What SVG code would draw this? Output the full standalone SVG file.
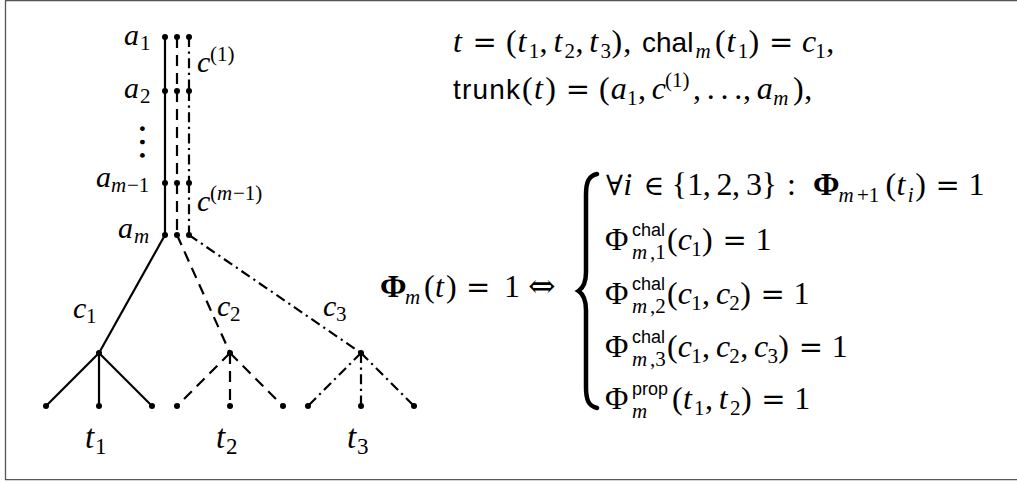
<svg xmlns="http://www.w3.org/2000/svg" width="1017" height="481" viewBox="0 0 1017 481">
<style>
.frame{fill:none;stroke:#555;stroke-width:1.3}
.e{fill:none;stroke:#000;stroke-width:2.2}
.dash{stroke-dasharray:11 7}
.dd{stroke-dasharray:10 4.5 2.2 4.5}
.dot{fill:#000}
text{fill:#000}
.m{font-family:"Liberation Serif","DejaVu Serif",serif;font-size:32px}
.l{font-family:"Liberation Serif","DejaVu Serif",serif;font-size:30px}
.big{font-family:"Liberation Serif","DejaVu Serif",serif;font-size:33px}
.i{font-style:italic}
.sc{font-size:21px}
.sb{font-size:23px}
.ss{font-family:"Liberation Sans",sans-serif;font-size:18px}
.sf{font-family:"Liberation Sans",sans-serif;font-size:28px}
.b{font-weight:bold}
.eq{font-family:"DejaVu Serif",serif;font-size:29px;font-style:normal}
.sym{font-family:"DejaVu Serif",serif;font-size:28px}
.brace{fill:none;stroke:#000;stroke-width:4.5;stroke-linecap:round}
</style>
<path class="frame" d="M1018 0.7 H5.5 V479.6 H1018"/>

<g id="connectors">
  <line class="e" x1="165" y1="37" x2="165" y2="91"/>
  <line class="e" x1="165" y1="91" x2="165" y2="183"/>
  <line class="e" x1="165" y1="183" x2="165" y2="235"/>
  <line class="e dash" x1="177" y1="37" x2="177" y2="91"/>
  <line class="e dash" x1="177" y1="91" x2="177" y2="183"/>
  <line class="e dash" x1="177" y1="183" x2="177" y2="235"/>
  <line class="e dd" x1="189" y1="37" x2="189" y2="91"/>
  <line class="e dd" x1="189" y1="91" x2="189" y2="183"/>
  <line class="e dd" x1="189" y1="183" x2="189" y2="235"/>
  <line class="e" x1="165" y1="235" x2="99" y2="353"/>
  <line class="e dash" x1="177" y1="235" x2="230" y2="353"/>
  <line class="e dd" x1="189" y1="235" x2="361" y2="353"/>
  <line class="e" x1="99" y1="353" x2="46" y2="406"/>
  <line class="e" x1="99" y1="353" x2="99" y2="406"/>
  <line class="e" x1="99" y1="353" x2="152" y2="406"/>
  <line class="e dash" x1="230" y1="353" x2="177" y2="406"/>
  <line class="e dash" x1="230" y1="353" x2="230" y2="406"/>
  <line class="e dash" x1="230" y1="353" x2="283" y2="406"/>
  <line class="e dd" x1="361" y1="353" x2="308" y2="406"/>
  <line class="e dd" x1="361" y1="353" x2="361" y2="406"/>
  <line class="e dd" x1="361" y1="353" x2="414" y2="406"/>
</g>

<g id="node-a1">
  <circle class="dot" cx="165" cy="37" r="3"/><circle class="dot" cx="177" cy="37" r="3"/><circle class="dot" cx="189" cy="37" r="3"/>
  <text class="l" y="45"><tspan class="i" x="124">a</tspan><tspan class="sc" x="140" y="50">1</tspan></text>
</g>
<g id="label-c1">
  <text class="l" y="72"><tspan class="i" x="197">c</tspan><tspan class="sc" x="210" y="61">(1)</tspan></text>
</g>
<g id="node-a2">
  <circle class="dot" cx="165" cy="91" r="3"/><circle class="dot" cx="177" cy="91" r="3"/><circle class="dot" cx="189" cy="91" r="3"/>
  <text class="l" y="98"><tspan class="i" x="124">a</tspan><tspan class="sc" x="140" y="103">2</tspan></text>
</g>
<g id="vdots">
  <text x="122" y="144" transform="rotate(90 142 142)" style="font-family:'Liberation Serif',serif;font-size:40px">…</text>
</g>
<g id="node-am1">
  <circle class="dot" cx="165" cy="183" r="3"/><circle class="dot" cx="177" cy="183" r="3"/><circle class="dot" cx="189" cy="183" r="3"/>
  <text class="l" y="187"><tspan class="i" x="96">a</tspan><tspan class="sc i" x="111" y="192">m</tspan><tspan class="sc" x="127" y="192">−1</tspan></text>
</g>
<g id="label-cm1">
  <text class="l" y="211"><tspan class="i" x="197">c</tspan><tspan class="sc" x="210" y="200">(</tspan><tspan class="sc i" x="217" y="200">m</tspan><tspan class="sc" x="233" y="200">−1)</tspan></text>
</g>
<g id="node-am">
  <circle class="dot" cx="165" cy="235" r="3"/><circle class="dot" cx="177" cy="235" r="3"/><circle class="dot" cx="189" cy="235" r="3"/>
  <text class="l" y="238"><tspan class="i" x="118">a</tspan><tspan class="sc i" x="134" y="243">m</tspan></text>
</g>

<g id="node-t1">
  <circle class="dot" cx="99" cy="353" r="3"/>
  <circle class="dot" cx="46" cy="406" r="3"/><circle class="dot" cx="99" cy="406" r="3"/><circle class="dot" cx="152" cy="406" r="3"/>
  <text class="big" y="448"><tspan class="i" x="85">t</tspan><tspan class="sb" x="95" y="454">1</tspan></text>
</g>
<g id="node-t2">
  <circle class="dot" cx="230" cy="353" r="3"/>
  <circle class="dot" cx="177" cy="406" r="3"/><circle class="dot" cx="230" cy="406" r="3"/><circle class="dot" cx="283" cy="406" r="3"/>
  <text class="big" y="448"><tspan class="i" x="216">t</tspan><tspan class="sb" x="226" y="454">2</tspan></text>
</g>
<g id="node-t3">
  <circle class="dot" cx="361" cy="353" r="3"/>
  <circle class="dot" cx="308" cy="406" r="3"/><circle class="dot" cx="361" cy="406" r="3"/><circle class="dot" cx="414" cy="406" r="3"/>
  <text class="big" y="448"><tspan class="i" x="347">t</tspan><tspan class="sb" x="357" y="454">3</tspan></text>
</g>

<g id="edge-labels">
  <text class="l" y="318"><tspan class="i" x="73">c</tspan><tspan class="sc" x="86" y="323">1</tspan></text>
  <text class="l" y="316"><tspan class="i" x="217">c</tspan><tspan class="sc" x="230" y="321">2</tspan></text>
  <text class="l" y="316"><tspan class="i" x="323">c</tspan><tspan class="sc" x="336" y="321">3</tspan></text>
</g>

<g id="formula-top">
  <text class="m" y="52"><tspan class="i" x="453">t</tspan><tspan class="eq" x="472.5">=</tspan><tspan x="506">(</tspan><tspan class="i" x="517.5">t</tspan><tspan class="sc" x="528.7" y="58">1</tspan><tspan x="539.6" y="52">,</tspan><tspan class="i" x="553.4">t</tspan><tspan class="sc" x="564.6" y="58">2</tspan><tspan x="575.4" y="52">,</tspan><tspan class="i" x="589.2">t</tspan><tspan class="sc" x="600.4" y="58">3</tspan><tspan x="611.5" y="52">)</tspan><tspan x="623.3">,</tspan></text>
  <text class="sf" x="642" y="52">chal</text>
  <text class="m" y="52"><tspan class="sc i" x="695.4" y="58">m</tspan><tspan x="715" y="52">(</tspan><tspan class="i" x="726.5">t</tspan><tspan class="sc" x="737.7" y="58">1</tspan><tspan x="748.6" y="52">)</tspan><tspan class="eq" x="769">=</tspan><tspan class="i" x="801.9">c</tspan><tspan class="sc" x="815.3" y="58">1</tspan><tspan x="826.2" y="52">,</tspan></text>
  <text class="sf" x="453" y="99" style="letter-spacing:1.2px">trunk</text>
  <text class="m" y="99"><tspan x="522">(</tspan><tspan class="i" x="534.1">t</tspan><tspan x="545.3">)</tspan><tspan class="eq" x="565.7">=</tspan><tspan x="599">(</tspan><tspan class="i" x="610.7">a</tspan><tspan class="sc" x="627.1" y="105">1</tspan><tspan x="637.9" y="99">,</tspan><tspan class="i" x="651.7">c</tspan><tspan class="sc" x="665.1" y="87">(1)</tspan><tspan x="692.9" y="99">,</tspan><tspan x="706.7">.</tspan><tspan x="720.5">.</tspan><tspan x="734.3">.</tspan><tspan x="743">,</tspan><tspan class="i" x="756.8">a</tspan><tspan class="sc i" x="773.2" y="105">m</tspan><tspan x="793" y="99">)</tspan><tspan x="804.3">,</tspan></text>
</g>

<g id="formula-main">
  <text class="m" y="297"><tspan class="b" x="380">Φ</tspan><tspan class="sc i" x="405" y="304">m</tspan><tspan x="424" y="297">(</tspan><tspan class="i" x="435">t</tspan><tspan x="446">)</tspan><tspan class="eq" x="466">=</tspan><tspan x="504">1</tspan></text>
  <text class="sym" x="528" y="297" style="font-size:33px">⇔</text>
  <path class="brace" d="M597 174 C589 176 586 181 586 195 L586 272 C586 283 583 288 578.5 291 C583 294 586 299 586 310 L586 387 C586 401 589 406 597 408"/>
</g>

<g id="cases">
  <text class="sym" x="606" y="195">∀</text>
  <text class="m" y="195"><tspan class="i" x="623.2">i</tspan></text>
  <text class="sym" x="643.5" y="195">∈</text>
  <text class="m" y="195"><tspan x="671.8">{</tspan><tspan x="687.3">1</tspan><tspan x="702.8">,</tspan><tspan x="716.6">2</tspan><tspan x="732.1">,</tspan><tspan x="745.9">3</tspan><tspan x="761.4">}</tspan><tspan x="787">:</tspan><tspan class="b" x="813">Φ</tspan><tspan class="sc i" x="838.5" y="202">m</tspan><tspan class="sc" x="857" y="202">+1</tspan><tspan x="885.6" y="195">(</tspan><tspan class="i" x="896.6">t</tspan><tspan class="sc i" x="907.8" y="202">i</tspan><tspan x="915.3" y="195">)</tspan><tspan class="eq" x="935.5">=</tspan><tspan x="968.6">1</tspan></text>

  <text class="m" y="250"><tspan x="605">Φ</tspan><tspan class="sc i" x="632" y="259">m</tspan><tspan class="sc" x="650" y="259">,1</tspan><tspan x="667" y="250">(</tspan><tspan class="i" x="677.8">c</tspan><tspan class="sc" x="691.2" y="256">1</tspan><tspan x="702.1" y="250">)</tspan><tspan class="eq" x="722.5">=</tspan><tspan x="755.5">1</tspan></text>
  <text class="ss" x="632" y="236">chal</text>

  <text class="m" y="304"><tspan x="605">Φ</tspan><tspan class="sc i" x="632" y="313">m</tspan><tspan class="sc" x="650" y="313">,2</tspan><tspan x="667" y="304">(</tspan><tspan class="i" x="677.8">c</tspan><tspan class="sc" x="691.2" y="310">1</tspan><tspan x="702.1" y="304">,</tspan><tspan class="i" x="715.9">c</tspan><tspan class="sc" x="729.3" y="310">2</tspan><tspan x="740.2" y="304">)</tspan><tspan class="eq" x="760.6">=</tspan><tspan x="793.6">1</tspan></text>
  <text class="ss" x="632" y="290">chal</text>

  <text class="m" y="357"><tspan x="605">Φ</tspan><tspan class="sc i" x="632" y="366">m</tspan><tspan class="sc" x="650" y="366">,3</tspan><tspan x="667" y="357">(</tspan><tspan class="i" x="677.8">c</tspan><tspan class="sc" x="691.2" y="363">1</tspan><tspan x="702.1" y="357">,</tspan><tspan class="i" x="715.9">c</tspan><tspan class="sc" x="729.3" y="363">2</tspan><tspan x="740.2" y="357">,</tspan><tspan class="i" x="754">c</tspan><tspan class="sc" x="767.4" y="363">3</tspan><tspan x="778.3" y="357">)</tspan><tspan class="eq" x="798.7">=</tspan><tspan x="831.7">1</tspan></text>
  <text class="ss" x="632" y="343">chal</text>

  <text class="m" y="409"><tspan x="605">Φ</tspan><tspan class="sc i" x="632" y="418">m</tspan><tspan x="672" y="409">(</tspan><tspan class="i" x="682.9">t</tspan><tspan class="sc" x="694.1" y="415">1</tspan><tspan x="705" y="409">,</tspan><tspan class="i" x="718.8">t</tspan><tspan class="sc" x="730" y="415">2</tspan><tspan x="740.9" y="409">)</tspan><tspan class="eq" x="761.3">=</tspan><tspan x="794.3">1</tspan></text>
  <text class="ss" x="632" y="395">prop</text>
</g>
</svg>
